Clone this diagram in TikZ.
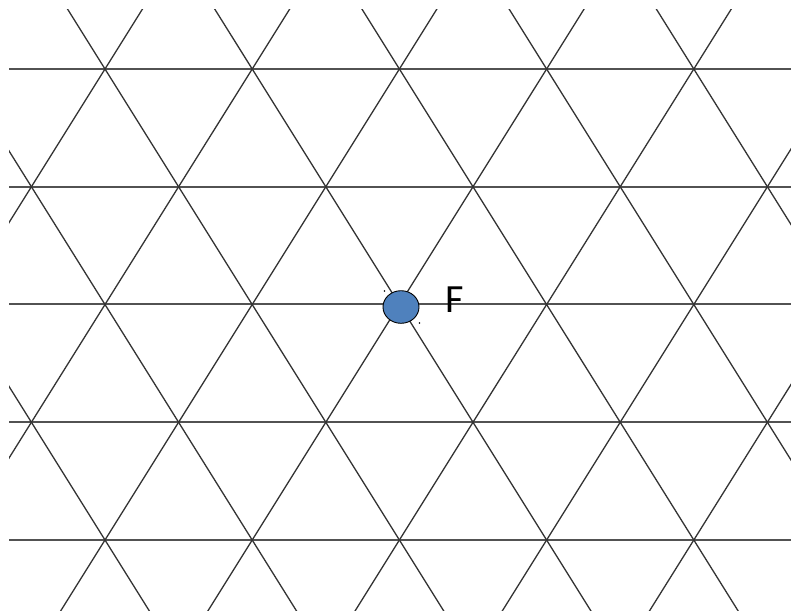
\documentclass[tikz,border=0pt]{standalone}
\usepackage{fontspec}
\setmainfont{Carlito}
\usetikzlibrary{shapes.geometric}
\definecolor{ballblue}{RGB}{79,129,189}
\begin{document}
\begin{tikzpicture}[x=1pt,y=-1pt,
  hline/.style={draw=black!68,line width=1.5pt},
  dline/.style={draw=black!80,line width=1.3pt},
  ballstyle/.style={ellipse,draw=black,line width=0.9pt,fill=ballblue,minimum width=36pt,minimum height=32.6pt,inner sep=0pt},
  handle/.style={circle,fill=black,inner sep=0pt,minimum size=1.6pt}]
\useasboundingbox (0,0) rectangle (791,613);
\begin{scope}
\clip (9,9) rectangle (791,610);
\foreach \y in {69,187,304,422,540} \draw[hline] (9,\y) -- (791,\y);
\foreach \k in {-4,...,9} {
  \pgfmathsetmacro\x{105+147.2*\k}
  \draw[dline] (\x-73.6,69-117.75) -- (\x+73.6*5,69+117.75*5);
  \draw[dline] (\x+73.6,69-117.75) -- (\x-73.6*5,69+117.75*5);
}
\end{scope}
\node[ballstyle] (ball) at (401,307) {};
\node[handle] (h1) at (384.5,291) {};
\node[handle] (h2) at (419.5,323) {};
\node[inner sep=0pt,font=\fontsize{40}{44}\selectfont] (lbl) at (454.5,299.5) {F};
\end{tikzpicture}
\end{document}
